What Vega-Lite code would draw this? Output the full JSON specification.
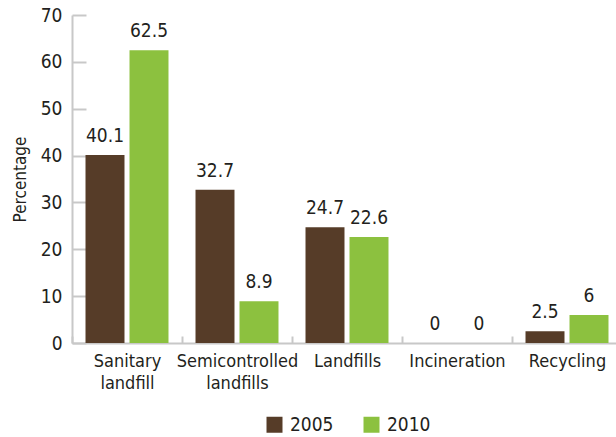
{
  "$schema": "https://vega.github.io/schema/vega-lite/v6.json",
  "autosize": "none",
  "padding": {"left": 72, "top": 15, "right": 0, "bottom": 94},
  "width": 550,
  "height": 328,
  "background": "white",
  "config": {
    "view": {"stroke": null},
    "font": "DejaVu Sans Condensed, sans-serif"
  },
  "data": {
    "values": [
      {"category": "Sanitary landfill", "year": "2005", "value": 40.1},
      {"category": "Sanitary landfill", "year": "2010", "value": 62.5},
      {"category": "Semicontrolled landfills", "year": "2005", "value": 32.7},
      {"category": "Semicontrolled landfills", "year": "2010", "value": 8.9},
      {"category": "Landfills", "year": "2005", "value": 24.7},
      {"category": "Landfills", "year": "2010", "value": 22.6},
      {"category": "Incineration", "year": "2005", "value": 0},
      {"category": "Incineration", "year": "2010", "value": 0},
      {"category": "Recycling", "year": "2005", "value": 2.5},
      {"category": "Recycling", "year": "2010", "value": 6}
    ]
  },
  "encoding": {
    "x": {
      "field": "category",
      "type": "nominal",
      "sort": null,
      "scale": {"paddingInner": 0, "paddingOuter": 0},
      "axis": {
        "title": null,
        "labelAngle": 0,
        "labelExpr": "split(datum.label, ' ')",
        "labelFontSize": 18,
        "labelLineHeight": 22,
        "labelColor": "#231f20",
        "labelPadding": 16,
        "domainColor": "#c8c8c8",
        "domainWidth": 2,
        "tickColor": "#c8c8c8",
        "tickWidth": 2,
        "tickSize": -7,
        "tickBand": "extent"
      }
    },
    "xOffset": {
      "field": "year",
      "type": "nominal",
      "scale": {"paddingInner": 0.114, "paddingOuter": 0.307}
    },
    "y": {
      "field": "value",
      "type": "quantitative",
      "scale": {"domain": [0, 70]},
      "axis": {
        "title": "Percentage",
        "titleFontSize": 17,
        "titleFontWeight": "normal",
        "titleColor": "#231f20",
        "titlePadding": 11,
        "values": [0, 10, 20, 30, 40, 50, 60, 70],
        "grid": false,
        "labelFontSize": 19,
        "labelColor": "#231f20",
        "labelPadding": 24,
        "domainColor": "#c8c8c8",
        "domainWidth": 2,
        "tickColor": "#c8c8c8",
        "tickWidth": 2,
        "tickSize": -14
      }
    }
  },
  "layer": [
    {
      "mark": {"type": "bar"},
      "encoding": {
        "color": {
          "field": "year",
          "type": "nominal",
          "scale": {"domain": ["2005", "2010"], "range": ["#563c28", "#8cc13f"]},
          "legend": {
            "title": null,
            "orient": "none",
            "direction": "horizontal",
            "legendX": 193,
            "legendY": 400,
            "symbolType": "square",
            "symbolSize": 256,
            "symbolStrokeWidth": 0,
            "labelFontSize": 19,
            "labelColor": "#231f20",
            "labelOffset": 6,
            "columnPadding": 28
          }
        }
      }
    },
    {
      "mark": {"type": "text", "baseline": "bottom", "dy": -9, "fontSize": 19, "color": "#231f20"},
      "encoding": {
        "text": {"field": "value", "type": "quantitative"}
      }
    }
  ]
}
